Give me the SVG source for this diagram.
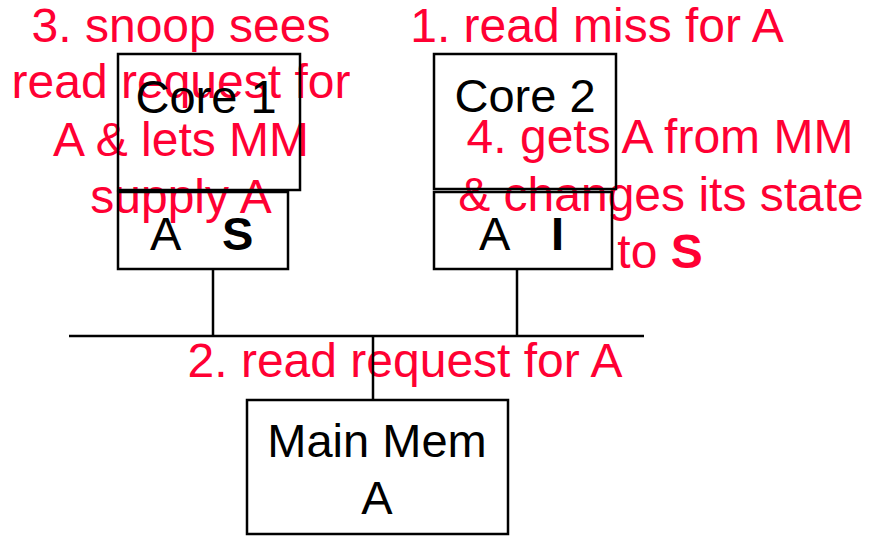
<svg xmlns="http://www.w3.org/2000/svg" width="869" height="536" viewBox="0 0 869 536">
  <style>
    .box { fill: none; stroke: #000; stroke-width: 2.5; }
    .wire { stroke: #000; stroke-width: 2.5; fill: none; }
    .lbl { font-family: "Liberation Sans", Arial, sans-serif; font-size: 47px; fill: #000; }
    .note { font-family: "Liberation Sans", Arial, sans-serif; font-size: 48px; fill: #ff0033; text-anchor: middle; }
    .b { font-weight: bold; }
    .mid { text-anchor: middle; }
  </style>
  <rect width="869" height="536" fill="#fff"/>

  <!-- protocol step annotations -->
  <g id="annotations">
    <text class="note" x="181" y="42">3. snoop sees</text>
    <text class="note" x="181" y="98">read request for</text>
    <text class="note" x="181" y="156">A &amp; lets MM</text>
    <text class="note" x="181" y="213">supply A</text>
    <text class="note" x="597" y="42">1. read miss for A</text>
    <text class="note" x="660" y="153">4. gets A from MM</text>
    <text class="note" x="661" y="211">&amp; changes its state</text>
    <text class="note" x="660" y="268">to <tspan class="b">S</tspan></text>
    <text class="note" x="405" y="377">2. read request for A</text>
  </g>

  <!-- shared bus and taps -->
  <g id="connectors">
    <line class="wire" x1="69" y1="336" x2="644" y2="336"/>
    <line class="wire" x1="213" y1="270" x2="213" y2="336"/>
    <line class="wire" x1="517" y1="270" x2="517" y2="336"/>
    <line class="wire" x1="373" y1="336" x2="373" y2="400"/>
  </g>

  <g id="core1">
    <rect class="box" x="118" y="54" width="182" height="136"/>
    <text class="lbl mid" x="206" y="113">Core 1</text>
  </g>
  <g id="cache1">
    <rect class="box" x="118" y="192" width="170" height="77"/>
    <text class="lbl" x="150" y="250">A</text>
    <text class="lbl b" x="222" y="250">S</text>
  </g>

  <g id="core2">
    <rect class="box" x="434" y="54" width="182" height="135"/>
    <text class="lbl mid" x="525" y="112">Core 2</text>
  </g>
  <g id="cache2">
    <rect class="box" x="434" y="192" width="178" height="77"/>
    <text class="lbl" x="479" y="250">A</text>
    <text class="lbl b" x="551" y="250">I</text>
  </g>

  <g id="mainmem">
    <rect class="box" x="247" y="400" width="261" height="134"/>
    <text class="lbl mid" x="377" y="457">Main Mem</text>
    <text class="lbl mid" x="377" y="514">A</text>
  </g>
</svg>
